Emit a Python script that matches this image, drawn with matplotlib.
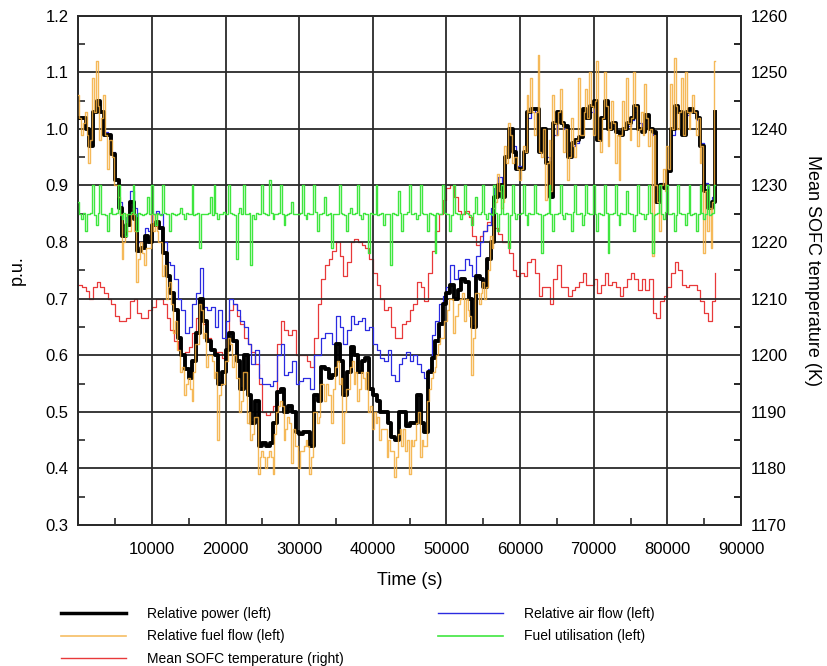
import numpy as np
import matplotlib
matplotlib.use("Agg")
import matplotlib.pyplot as plt
from matplotlib.ticker import MultipleLocator, FormatStrFormatter
from matplotlib.lines import Line2D

plt.rcParams['font.family'] = ['Liberation Sans', 'DejaVu Sans']

# time axes (s)
time_s = np.arange(0, 87000, 500)      # 500 s sampling
time_fine = np.arange(0, 86750, 250)   # 250 s sampling

power = [
    1.02, 1.02, 1.00, 0.97, 1.03, 1.05, 1.03, 0.99, 0.99, 0.955,
    0.91, 0.86, 0.81, 0.83, 0.87, 0.84, 0.785, 0.79, 0.81, 0.80,
    0.83, 0.835, 0.825, 0.78, 0.74, 0.71, 0.68, 0.63, 0.60, 0.575,
    0.56, 0.59, 0.64, 0.70, 0.66, 0.625, 0.61, 0.60, 0.55, 0.57,
    0.61, 0.64, 0.625, 0.59, 0.54, 0.60, 0.53, 0.48, 0.52, 0.44,
    0.445, 0.44, 0.445, 0.48, 0.535, 0.54, 0.50, 0.51, 0.50, 0.465,
    0.46, 0.465, 0.465, 0.44, 0.53, 0.52, 0.58, 0.575, 0.56, 0.565,
    0.62, 0.59, 0.53, 0.57, 0.615, 0.60, 0.57, 0.59, 0.595, 0.54,
    0.53, 0.52, 0.50, 0.50, 0.48, 0.455, 0.45, 0.50, 0.50, 0.475,
    0.48, 0.48, 0.53, 0.48, 0.465, 0.57, 0.595, 0.625, 0.655, 0.69,
    0.71, 0.725, 0.70, 0.715, 0.735, 0.73, 0.70, 0.65, 0.74, 0.735,
    0.72, 0.77, 0.80, 0.88, 0.90, 0.88, 0.95, 1.00, 0.96, 0.93,
    0.93, 0.96, 1.03, 1.035, 1.035, 0.96, 1.00, 0.94, 0.88, 1.01,
    1.03, 1.01, 1.005, 0.95, 0.975, 0.98, 0.985, 1.035, 1.02, 1.04,
    1.05, 0.98, 1.02, 1.05, 1.00, 1.01, 0.995, 0.99, 1.00, 1.01,
    1.02, 1.04, 1.00, 0.995, 1.025, 1.00, 0.995, 0.87, 0.90, 0.895,
    0.925, 1.00, 1.04, 1.03, 0.99, 1.03, 1.035, 1.03, 1.02, 0.97,
    0.89, 0.86, 0.87, 1.03,
]

air_flow = [
    1.02, 1.02, 1.00, 0.975, 1.03, 1.045, 1.03, 0.995, 0.99, 0.96,
    0.91, 0.87, 0.83, 0.845, 0.89, 0.86, 0.80, 0.80, 0.825, 0.82,
    0.85, 0.855, 0.85, 0.80, 0.765, 0.76, 0.735, 0.70, 0.68, 0.64,
    0.65, 0.69, 0.71, 0.755, 0.685, 0.68, 0.685, 0.65, 0.68, 0.63,
    0.66, 0.70, 0.69, 0.68, 0.66, 0.65, 0.62, 0.585, 0.61, 0.56,
    0.55, 0.55, 0.545, 0.555, 0.60, 0.62, 0.565, 0.57, 0.59, 0.55,
    0.555, 0.56, 0.56, 0.54, 0.60, 0.60, 0.63, 0.64, 0.64, 0.62,
    0.67, 0.65, 0.62, 0.645, 0.67, 0.655, 0.66, 0.665, 0.645, 0.65,
    0.62, 0.61, 0.595, 0.59, 0.61, 0.565, 0.555, 0.585, 0.595, 0.605,
    0.59, 0.60, 0.585, 0.57, 0.56, 0.575, 0.635, 0.66, 0.69, 0.705,
    0.72, 0.76, 0.735, 0.75, 0.75, 0.77, 0.76, 0.74, 0.775, 0.80,
    0.82, 0.83, 0.86, 0.895, 0.915, 0.88, 0.95, 0.995, 0.97, 0.935,
    0.935, 0.96, 1.02, 1.035, 1.03, 0.98, 1.00, 0.95, 0.92, 0.99,
    1.02, 1.01, 1.00, 0.96, 0.97, 0.975, 0.985, 1.02, 1.02, 1.03,
    1.035, 1.00, 1.02, 1.035, 1.01, 1.005, 0.995, 0.99, 1.00, 1.005,
    1.015, 1.03, 1.01, 1.00, 1.015, 1.00, 0.99, 0.89, 0.905, 0.90,
    0.93, 0.99, 1.03, 1.03, 1.00, 1.025, 1.035, 1.03, 1.015, 0.975,
    0.905, 0.87, 0.88, 1.00,
]

fuel_flow = [
    1.06, 1.02, 0.99, 1.01, 1.03, 0.99, 0.94, 0.98, 1.09, 1.03,
    1.12, 1.04, 0.98, 1.02, 1.06, 0.99, 0.93, 0.98, 0.98, 0.95,
    0.90, 0.90, 0.88, 0.85, 0.77, 0.80, 0.85, 0.82, 0.82, 0.85,
    0.86, 0.82, 0.73, 0.77, 0.80, 0.78, 0.76, 0.79, 0.79, 0.79,
    0.85, 0.82, 0.85, 0.82, 0.80, 0.80, 0.74, 0.76, 0.70, 0.72,
    0.73, 0.69, 0.64, 0.66, 0.61, 0.61, 0.57, 0.58, 0.53, 0.55,
    0.56, 0.54, 0.52, 0.57, 0.62, 0.62, 0.69, 0.68, 0.63, 0.64,
    0.58, 0.60, 0.60, 0.59, 0.56, 0.57, 0.45, 0.53, 0.55, 0.55,
    0.59, 0.59, 0.63, 0.62, 0.58, 0.60, 0.56, 0.56, 0.50, 0.52,
    0.57, 0.57, 0.48, 0.50, 0.45, 0.46, 0.49, 0.49, 0.39, 0.42,
    0.43, 0.42, 0.40, 0.42, 0.43, 0.42, 0.39, 0.46, 0.50, 0.51,
    0.52, 0.51, 0.45, 0.47, 0.49, 0.48, 0.41, 0.47, 0.44, 0.44,
    0.40, 0.43, 0.43, 0.44, 0.45, 0.44, 0.39, 0.42, 0.50, 0.50,
    0.48, 0.49, 0.55, 0.55, 0.52, 0.55, 0.53, 0.53, 0.48, 0.54,
    0.58, 0.59, 0.55, 0.56, 0.445, 0.50, 0.54, 0.54, 0.58, 0.59,
    0.55, 0.57, 0.52, 0.54, 0.57, 0.56, 0.54, 0.57, 0.50, 0.51,
    0.47, 0.50, 0.48, 0.49, 0.45, 0.47, 0.47, 0.47, 0.42, 0.45,
    0.43, 0.43, 0.385, 0.42, 0.46, 0.47, 0.44, 0.47, 0.43, 0.45,
    0.39, 0.45, 0.44, 0.45, 0.48, 0.50, 0.42, 0.45, 0.44, 0.44,
    0.52, 0.54, 0.56, 0.57, 0.58, 0.60, 0.62, 0.63, 0.63, 0.66,
    0.66, 0.68, 0.70, 0.70, 0.64, 0.67, 0.67, 0.69, 0.70, 0.71,
    0.66, 0.70, 0.68, 0.67, 0.565, 0.63, 0.71, 0.71, 0.69, 0.71,
    0.73, 0.70, 0.72, 0.75, 0.81, 0.79, 0.86, 0.87, 0.92, 0.89,
    0.86, 0.87, 0.97, 0.94, 1.01, 0.99, 0.94, 0.95, 0.95, 0.93,
    0.91, 0.93, 0.97, 0.96, 1.06, 1.03, 1.09, 1.03, 0.99, 1.03,
    1.13, 0.96, 0.95, 1.00, 0.875, 0.94, 0.98, 0.89, 1.06, 1.01,
    0.99, 1.03, 1.07, 1.01, 0.96, 1.00, 0.91, 0.95, 1.02, 0.97,
    0.95, 0.98, 1.09, 0.99, 0.99, 1.03, 1.07, 1.02, 1.10, 1.04,
    0.99, 1.05, 1.12, 0.98, 0.96, 1.02, 1.10, 1.04, 0.97, 1.00,
    1.05, 1.01, 0.94, 0.99, 0.91, 0.99, 1.05, 1.00, 1.09, 1.01,
    0.98, 1.02, 1.10, 1.04, 0.97, 1.00, 1.03, 0.99, 1.08, 1.02,
    0.97, 1.00, 0.775, 0.99, 0.90, 0.87, 0.82, 0.90, 0.93, 0.89,
    0.97, 0.93, 1.08, 1.00, 1.125, 1.04, 1.00, 1.03, 1.09, 0.99,
    1.10, 1.03, 1.00, 1.03, 1.06, 1.03, 0.99, 1.02, 0.94, 0.97,
    0.78, 0.89, 0.82, 0.86, 0.79, 0.87, 1.12,
]

fuel_util = [
    0.87, 0.850, 0.84, 0.852, 0.82, 0.849, 0.85, 0.851, 0.90, 0.848,
    0.83, 0.852, 0.90, 0.850, 0.85, 0.847, 0.82, 0.851, 0.86, 0.849,
    0.85, 0.852, 0.90, 0.848, 0.84, 0.851, 0.81, 0.850, 0.85, 0.853,
    0.90, 0.849, 0.82, 0.851, 0.85, 0.848, 0.85, 0.852, 0.88, 0.850,
    0.90, 0.849, 0.83, 0.851, 0.85, 0.848, 0.90, 0.852, 0.85, 0.850,
    0.82, 0.851, 0.85, 0.848, 0.85, 0.852, 0.86, 0.849, 0.84, 0.851,
    0.85, 0.850, 0.90, 0.848, 0.85, 0.852, 0.79, 0.850, 0.85, 0.849,
    0.85, 0.852, 0.88, 0.848, 0.90, 0.851, 0.84, 0.850, 0.85, 0.853,
    0.85, 0.849, 0.90, 0.851, 0.85, 0.848, 0.77, 0.852, 0.86, 0.850,
    0.90, 0.849, 0.85, 0.851, 0.76, 0.848, 0.84, 0.852, 0.85, 0.850,
    0.90, 0.851, 0.85, 0.848, 0.91, 0.852, 0.84, 0.849, 0.85, 0.851,
    0.90, 0.850, 0.83, 0.848, 0.85, 0.852, 0.87, 0.850, 0.85, 0.849,
    0.85, 0.852, 0.90, 0.848, 0.84, 0.851, 0.85, 0.850, 0.90, 0.853,
    0.82, 0.849, 0.85, 0.851, 0.88, 0.848, 0.85, 0.852, 0.79, 0.850,
    0.85, 0.849, 0.90, 0.851, 0.85, 0.848, 0.82, 0.852, 0.86, 0.850,
    0.85, 0.851, 0.90, 0.848, 0.84, 0.852, 0.85, 0.849, 0.78, 0.851,
    0.85, 0.850, 0.90, 0.848, 0.85, 0.852, 0.83, 0.850, 0.85, 0.849,
    0.76, 0.852, 0.85, 0.848, 0.89, 0.851, 0.82, 0.850, 0.85, 0.853,
    0.90, 0.849, 0.85, 0.851, 0.84, 0.848, 0.90, 0.852, 0.85, 0.850,
    0.82, 0.851, 0.85, 0.848, 0.78, 0.852, 0.85, 0.849, 0.90, 0.851,
    0.85, 0.850, 0.82, 0.848, 0.90, 0.852, 0.85, 0.850, 0.84, 0.849,
    0.90, 0.852, 0.85, 0.848, 0.83, 0.851, 0.88, 0.850, 0.85, 0.853,
    0.90, 0.849, 0.84, 0.851, 0.85, 0.848, 0.90, 0.852, 0.82, 0.850,
    0.90, 0.849, 0.85, 0.851, 0.79, 0.848, 0.90, 0.852, 0.84, 0.850,
    0.85, 0.851, 0.90, 0.848, 0.83, 0.852, 0.85, 0.849, 0.90, 0.851,
    0.85, 0.850, 0.78, 0.848, 0.85, 0.852, 0.90, 0.850, 0.82, 0.849,
    0.85, 0.852, 0.90, 0.848, 0.84, 0.851, 0.85, 0.850, 0.82, 0.853,
    0.90, 0.849, 0.85, 0.851, 0.83, 0.848, 0.90, 0.852, 0.85, 0.850,
    0.90, 0.849, 0.82, 0.851, 0.85, 0.848, 0.90, 0.852, 0.78, 0.850,
    0.85, 0.851, 0.90, 0.848, 0.83, 0.852, 0.85, 0.849, 0.89, 0.851,
    0.85, 0.850, 0.82, 0.848, 0.90, 0.852, 0.85, 0.850, 0.84, 0.849,
    0.90, 0.852, 0.78, 0.848, 0.85, 0.851, 0.90, 0.850, 0.84, 0.853,
    0.90, 0.849, 0.85, 0.851, 0.82, 0.848, 0.90, 0.852, 0.85, 0.850,
    0.83, 0.851, 0.90, 0.848, 0.85, 0.852, 0.82, 0.849, 0.90, 0.851,
    0.84, 0.850, 0.90, 0.848, 0.85, 0.852, 0.90,
]

sofc_temp_K = [
    1212.5, 1212, 1211.3, 1210, 1212, 1213, 1212, 1211, 1210, 1209,
    1207, 1206, 1206, 1206.5, 1209.5, 1210, 1207.5, 1206.5, 1206.5, 1208,
    1208.5, 1210, 1210, 1209, 1206.5, 1204.5, 1202.5, 1201, 1200, 1200.5,
    1201.5, 1204, 1206.5, 1208, 1205.5, 1203, 1201, 1200.5, 1200.5, 1199.5,
    1203.5, 1208, 1209, 1207, 1205.5, 1203, 1202, 1200.5, 1198.5, 1195,
    1190, 1189.5, 1190, 1191, 1202, 1206, 1204.5, 1203.5, 1204.5, 1200,
    1200, 1200, 1199, 1198, 1203, 1209, 1213.5, 1216, 1217, 1218.5,
    1220, 1217.5, 1214, 1216.5, 1220, 1220.5, 1220, 1219.5, 1219, 1217,
    1214.5, 1212.5, 1210, 1208, 1208.5, 1205, 1203, 1203, 1205.5, 1206,
    1208, 1209, 1213, 1212, 1209.5, 1214.5, 1218.5, 1222, 1225, 1227.5,
    1229.5, 1230, 1228, 1225.5, 1225, 1225.5, 1224.5, 1221, 1219.5, 1221,
    1222, 1223.5, 1223, 1222.5, 1221.5, 1220, 1220, 1218, 1215, 1214,
    1214.5, 1214, 1216.5, 1217, 1214.5, 1210.5, 1212, 1212, 1209, 1213.5,
    1216, 1212, 1212, 1210.5, 1211.5, 1212, 1213, 1214.5, 1212.5, 1212.5,
    1213.5, 1211, 1212.5, 1214.5, 1212.5, 1213, 1212, 1210.5, 1212, 1213.5,
    1214.5, 1213.5, 1211.5, 1213.5, 1211.5, 1213.5, 1207.5, 1206.5, 1209.5, 1210.5,
    1212, 1214.5, 1216.5, 1215, 1212.5, 1212, 1212.5, 1212.5, 1211.5, 1209.5,
    1207.5, 1206, 1209.5, 1214.5,
]

labels = ["Relative power (left)", "Relative fuel flow (left)",
          "Mean SOFC temperature (right)", "Relative air flow (left)",
          "Fuel utilisation (left)"]

c_power = "black"
c_fuel = "#f4ad3c"
c_temp = "#e8393a"
c_air = "#2b2be0"
c_util = "#3fe63f"

fig = plt.figure(figsize=(8.27, 6.66), dpi=100)
ax = fig.add_axes([0.0947, 0.2117, 0.8013, 0.7647])
ax2 = ax.twinx()
ax2.set_zorder(ax.get_zorder() - 1)
ax.patch.set_visible(False)
ax2.patch.set_facecolor("white")

ax2.step(time_s, sofc_temp_K, where="post", color=c_temp, lw=0.9)
ax.step(time_s, air_flow, where="post", color=c_air, lw=0.9, zorder=3)
ax.step(time_s, power, where="post", color=c_power, lw=2.8, zorder=4)
ax.plot(time_fine, fuel_flow, drawstyle="steps-mid", color=c_fuel, lw=1.0,
        alpha=0.85, zorder=5)
ax.plot(time_fine, fuel_util, drawstyle="steps-mid", color=c_util, lw=1.0,
        zorder=6)

ax.set_xlim(0, 90000)
ax.set_ylim(0.3, 1.2)
ax2.set_ylim(1170, 1260)
ax.set_xticks(np.arange(10000, 90001, 10000))
ax.xaxis.set_minor_locator(MultipleLocator(5000))
ax.yaxis.set_major_locator(MultipleLocator(0.1))
ax.yaxis.set_minor_locator(MultipleLocator(0.05))
ax2.yaxis.set_major_locator(MultipleLocator(10))
ax2.yaxis.set_minor_locator(MultipleLocator(5))
ax.yaxis.set_major_formatter(FormatStrFormatter("%.1f"))

ax.grid(True, which="major", color="#2a2a2a", lw=1.3)
ax.tick_params(which="both", direction="in", labelsize=12, color="#2a2a2a")
ax.tick_params(which="major", length=0)
ax.tick_params(which="minor", length=5, width=1.2)
ax.tick_params(axis="x", pad=12)
ax.tick_params(axis="y", pad=7)
ax2.tick_params(which="both", direction="in", labelsize=12, pad=7)
ax2.tick_params(which="major", length=0)
ax2.tick_params(which="minor", length=5, width=1.2)
for a in (ax, ax2):
    for s in a.spines.values():
        s.set_linewidth(1.3)
        s.set_color("#2a2a2a")

ax.set_xlabel("Time (s)", fontsize=13, labelpad=11)
ax.set_ylabel("p.u.", fontsize=13, labelpad=14)
ax2.set_ylabel("Mean SOFC temperature (K)", fontsize=13, rotation=270, labelpad=24)

handles = [Line2D([], [], color=c_power, lw=2.5),
           Line2D([], [], color=c_fuel, lw=1.2, alpha=0.8),
           Line2D([], [], color=c_temp, lw=1.0),
           Line2D([], [], color=c_air, lw=1.0),
           Line2D([], [], color=c_util, lw=1.2)]
fig.legend(handles, labels, ncol=2, loc="upper left",
           bbox_to_anchor=(0.062, 0.103), bbox_transform=fig.transFigure,
           frameon=False, fontsize=10, handlelength=4.7, handletextpad=1.5,
           columnspacing=6.75, labelspacing=0.6, borderpad=0.2)

fig.savefig("out.png", dpi=100)
